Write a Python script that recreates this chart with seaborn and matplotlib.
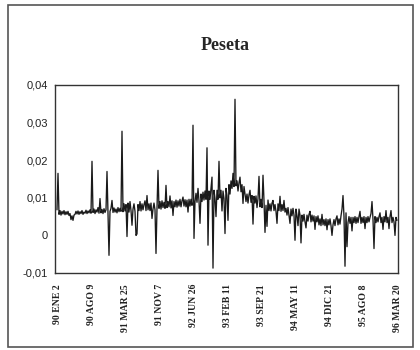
import matplotlib
matplotlib.use("Agg")
import matplotlib.pyplot as plt
import seaborn as sns
import pandas as pd
from matplotlib.patches import Rectangle

# Daily Peseta series (units of 0.001), one reading per pixel column
values_milli = [
    6.8, 16.5, 5.6, 6.6, 5.4, 6.4, 5.7, 6.6, 5.5, 6.3,
    5.6, 6.4, 5.3, 5.8, 4.2, 5.2, 4.0, 5.4, 5.6, 6.4,
    5.7, 6.5, 5.6, 6.3, 5.8, 6.6, 5.6, 6.2, 5.9, 6.7,
    5.8, 6.5, 6.0, 6.8, 5.9, 19.7, 6.1, 7.0, 5.8, 6.8,
    6.2, 7.4, 5.9, 9.8, 6.0, 6.9, 5.8, 7.1, 6.1, 6.8,
    17.0, 6.0, -5.3, 6.4, 7.2, 9.3, 6.1, 7.3, 6.2, 7.0,
    6.0, 7.4, 6.3, 7.2, 6.4, 27.7, 6.3, 8.4, 6.5, 8.2,
    -0.3, 8.6, 6.2, 9.0, 6.6, 2.7, 7.0, 8.4, 6.4, 0.0,
    0.4, 8.2, 6.6, 9.0, 6.5, 8.4, 6.8, 8.2, 9.2, 6.6,
    10.6, 6.8, 8.4, 6.6, 8.6, 4.5, 7.0, 8.6, 6.8, -4.8,
    7.2, 17.3, 7.2, 9.0, 7.0, 9.2, 7.4, 8.8, 7.2, 13.3,
    7.4, 9.0, 7.6, 10.5, 7.3, 9.2, 5.3, 9.0, 7.6, 9.4,
    7.5, 9.2, 7.8, 9.6, 7.6, 9.2, 10.2, 7.8, 9.5, 7.6,
    9.4, 6.2, 9.6, 7.8, 9.6, 8.0, 29.3, -0.8, 9.0, 11.2,
    8.8, 12.5, 9.2, 3.2, 11.0, 9.0, 11.5, 9.4, 11.8, 9.6,
    23.3, -2.6, 11.8, 9.6, 12.5, 15.5, -8.7, 12.0, 9.8, 5.0,
    12.0, 9.6, 19.7, 10.0, 12.0, 6.5, 11.8, 9.8, 0.5, 12.5,
    10.6, 4.0, 13.5, 11.0, 14.5, 12.5, 16.5, 13.0, 36.2, 13.2,
    14.5, 11.8, 14.0, 15.5, 11.6, 13.5, 8.5, 13.0, 11.0, 9.0,
    11.0, 8.6, 10.8, 12.0, 8.8, 10.6, 3.0, 10.4, 8.6, 10.5,
    7.4, 9.8, 15.7, 7.6, 9.6, 7.4, 16.0, 9.2, 0.8, 8.0,
    2.4, 9.4, 6.6, 8.4, 6.5, 8.6, 9.3, 6.6, 8.2, 6.4,
    3.2, 8.4, 6.6, 10.4, 6.4, 8.2, 6.6, 9.3, 6.2, 7.2,
    5.4, 7.4, 5.4, 3.2, 7.0, 5.2, 7.2, 5.4, -1.3, 7.0,
    5.2, 2.6, 7.0, 5.4, -2.0, 5.4, 3.8, 5.6, 3.6, 2.0,
    5.4, 3.8, 5.6, 6.4, 3.6, 5.4, 3.8, 5.2, 1.6, 5.0,
    3.6, 5.2, 2.8, 4.4, 2.6, 5.6, 2.8, 4.2, 2.6, 4.4,
    1.5, 4.2, 2.8, 4.4, 2.6, 0.0, 2.8, 4.2, 2.6, 4.4,
    5.2, 2.8, 4.4, 3.0, 5.2, 7.0, 10.6, 5.0, -8.2, 6.0,
    -3.0, 3.4, 5.0, 3.2, 4.8, 1.2, 4.8, 3.4, 5.0, 3.2,
    4.8, 3.4, 5.0, 6.4, 3.2, 4.8, 3.4, 5.0, 1.8, 4.8,
    3.4, 5.0, 3.6, 4.8, 5.8, 9.0, 4.2, -3.5, 5.0, 3.4,
    4.8, 3.6, 5.0, 6.0, 3.4, 4.8, 1.6, 5.0, 3.6, 6.6,
    3.4, 4.8, 1.8, 5.0, 6.6, 3.4, 4.8, 3.6, 0.0, 4.8,
    4.0,
]
date_labels = ["90 ENE 2", "90 AGO 9", "91 MAR 25", "91 NOV 7", "92 JUN 26",
               "93 FEB 11", "93 SEP 21", "94 MAY 11", "94 DIC 21", "95 AGO 8",
               "96 MAR 20"]
y_ticks = [-0.01, 0.0, 0.01, 0.02, 0.03, 0.04]
y_tick_labels = ["-0,01", "0", "0,01", "0,02", "0,03", "0,04"]
title = "Peseta"

df = pd.DataFrame({"t": range(len(values_milli)),
                   "v": [v / 1000.0 for v in values_milli]})

sns.set_style("white")
plt.rcParams["font.family"] = ["Liberation Serif", "DejaVu Serif"]

W, H = 420, 350
fig = plt.figure(figsize=(W / 100, H / 100), dpi=100)
ax = fig.add_axes([55 / W, 1 - 273 / H, (398 - 55) / W, (273 - 85) / H])

sns.lineplot(data=df, x="t", y="v", ax=ax, color="#1a1a1a", linewidth=0.95)

n = len(values_milli) - 1
step = n / (len(date_labels) - 1)
ax.set_xlim(-2, n + 1)
ax.set_ylim(-0.01, 0.04)
ax.set_xticks([i * step for i in range(len(date_labels))])
ax.set_xticklabels(date_labels, rotation=90, fontsize=7, fontweight="bold",
                   family=["Liberation Serif"])
ax.set_yticks(y_ticks)
ax.set_yticklabels(y_tick_labels, fontsize=8, family=["Liberation Sans"])
ax.set_xlabel("")
ax.set_ylabel("")
ax.tick_params(axis="x", direction="inout", length=4, width=0.8, pad=6, colors="#222222")
ax.tick_params(axis="y", direction="out", length=3, width=0.8, pad=2, colors="#222222")
for s in ax.spines.values():
    s.set_color("#333333")
    s.set_linewidth(1.0)

fig.text(225 / W, 1 - 46 / H, title, ha="center", va="center", fontsize=13,
         fontweight="bold", family=["Liberation Serif"])

fig.patches.append(Rectangle((8 / W, 1 - 347 / H), (413 - 8) / W, (347 - 5) / H,
                             transform=fig.transFigure, fill=False,
                             edgecolor="#555555", linewidth=1.2))

fig.savefig("out.png", dpi=100)
